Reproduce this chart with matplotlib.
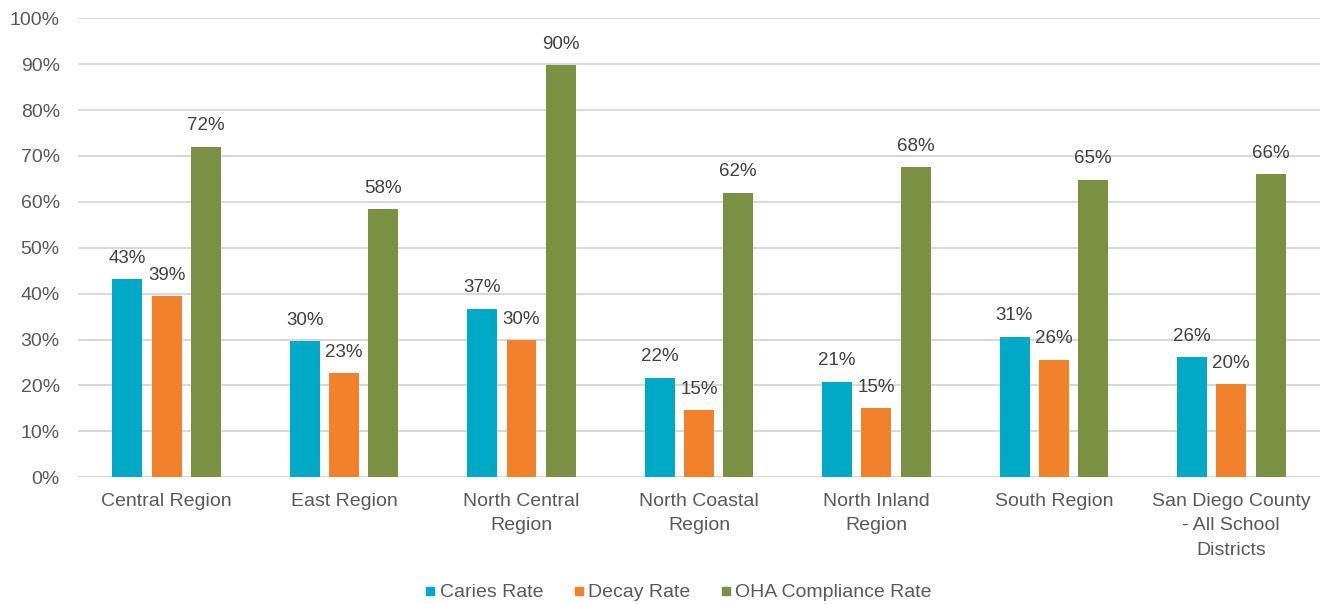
import matplotlib
matplotlib.use("Agg")
import matplotlib.pyplot as plt
import numpy as np
from matplotlib.lines import Line2D

plt.rcParams['font.family'] = ['Liberation Sans', 'DejaVu Sans']

# regions and rates (percent)
regions = ["Central Region", "East Region", "North Central\nRegion",
           "North Coastal\nRegion", "North Inland\nRegion", "South Region",
           "San Diego County\n- All School\nDistricts"]
caries = [43.2, 29.6, 36.7, 21.7, 20.8, 30.6, 26.1]
decay = [39.4, 22.7, 29.9, 14.6, 15.0, 25.6, 20.3]
oha = [72.0, 58.4, 89.8, 62.0, 67.6, 64.8, 66.0]

series_names = ["Caries Rate", "Decay Rate", "OHA Compliance Rate"]
colors = ["#00A9C6", "#F2812B", "#7A9143"]

fig = plt.figure(figsize=(13.2, 6.04), dpi=100)
ax = fig.add_axes([0.059, 0.2098, 0.941, 0.76])

x = np.arange(len(regions))
width = 0.169
step = 0.2215

for i, (vals, c) in enumerate(zip([caries, decay, oha], colors)):
    bars = ax.bar(x + (i - 1) * step, vals, width, color=c, zorder=3)
    for b, v in zip(bars, vals):
        ax.annotate(f"{v:.0f}%", (b.get_x() + b.get_width() / 2, v),
                    xytext=(0, 15), textcoords="offset points",
                    ha="center", va="center", fontsize=13.5, color="#404040")

ax.set_xlim(-0.5, len(regions) - 0.5)
ax.set_ylim(0, 100)
ax.set_yticks(np.arange(0, 101, 10))
ax.set_yticklabels([f"{t}%" for t in range(0, 101, 10)])
ax.set_xticks(x)
ax.set_xticklabels(regions, linespacing=1.6)
ax.tick_params(axis='both', length=0, labelsize=14, colors="#595959")
ax.tick_params(axis='y', pad=13)
ax.tick_params(axis='x', pad=11)
ax.grid(axis='y', color="#D9D9D9", linewidth=1.5, zorder=0)
for s in ax.spines.values():
    s.set_visible(False)

handles = [Line2D([], [], marker='s', linestyle='none', markersize=6,
                  markerfacecolor=c, markeredgecolor=c) for c in colors]
fig.legend(handles, series_names, loc='center', bbox_to_anchor=(0.513, 0.019),
           ncol=3, frameon=False, fontsize=14, handletextpad=0.1,
           columnspacing=1.4, labelcolor="#595959", handlelength=0.8)

fig.savefig("out.png", dpi=100)
